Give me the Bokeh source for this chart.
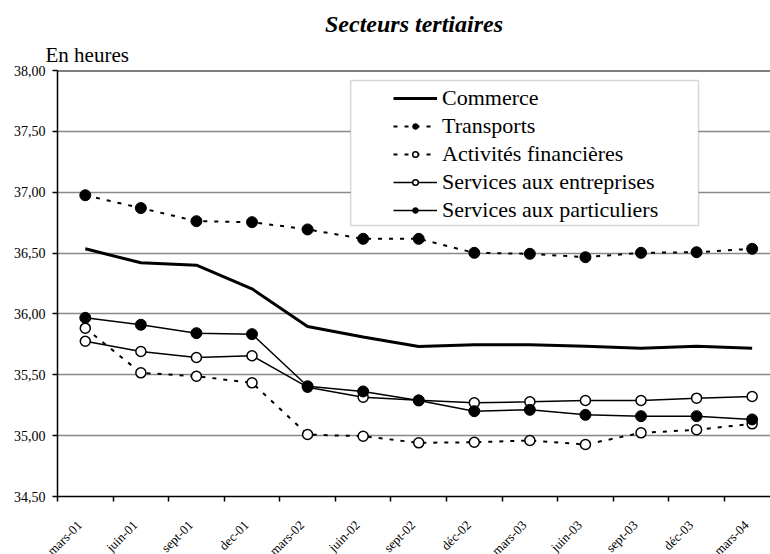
import math
from bokeh.plotting import figure
from bokeh.layouts import column
from bokeh.models import (Range1d, FixedTicker, Legend, LegendItem, BoxAnnotation,
                          Span, Title)
from bokeh.core.properties import value
from bokeh.embed import file_html
from bokeh.resources import INLINE

months = ["mars-01", "juin-01", "sept-01", "dec-01", "mars-02", "juin-02", "sept-02",
          "déc-02", "mars-03", "juin-03", "sept-03", "déc-03", "mars-04"]
commerce = [36.535, 36.42, 36.40, 36.206, 35.897, 35.81, 35.732, 35.746, 35.746,
            35.735, 35.718, 35.735, 35.718]
transports = [36.975, 36.87, 36.762, 36.754, 36.694, 36.617, 36.617, 36.502, 36.494,
              36.466, 36.502, 36.507, 36.535]
financieres = [35.883, 35.516, 35.488, 35.434, 35.009, 34.995, 34.941, 34.946, 34.960,
               34.927, 35.023, 35.048, 35.097]
entreprises = [35.776, 35.691, 35.642, 35.656, 35.398, 35.316, 35.29, 35.270, 35.278,
               35.289, 35.289, 35.308, 35.322]
particuliers = [35.968, 35.911, 35.842, 35.834, 35.406, 35.363, 35.289, 35.201, 35.212,
                35.171, 35.160, 35.160, 35.133]
y_ticks = [34.5, 35.0, 35.5, 36.0, 36.5, 37.0, 37.5, 38.0]
title_text = "Secteurs tertiaires"
unit_text = "En heures"

FONT = "Liberation Serif"
x = [i + 0.5 for i in range(len(months))]
y_min, y_max = y_ticks[0], y_ticks[-1]

W = 770
LEFT = 57
X_END = 12.83
PX_PER_UNIT = (W - LEFT) / X_END

p = figure(width=W, height=510, x_range=Range1d(0, X_END), y_range=Range1d(y_min, y_max),
           output_backend="svg", toolbar_location=None, title=None,
           min_border_left=LEFT, min_border_right=0, min_border_top=70, min_border_bottom=14)
p.frame_align = False
p.outline_line_color = None
p.background_fill_color = "white"

# x axis: boundary ticks only (category labels drawn in the strip below)
p.xaxis.ticker = FixedTicker(ticks=x, minor_ticks=list(range(len(months))))
p.xaxis.major_label_overrides = {xx: "" for xx in x}
p.xaxis.major_label_standoff = 0
p.xaxis.major_tick_in = 0
p.xaxis.major_tick_out = 0
p.xaxis.minor_tick_in = 0
p.xaxis.minor_tick_out = 5
p.xaxis.minor_tick_line_color = "black"
p.xaxis.minor_tick_line_width = 1.5
p.xaxis.axis_line_color = "black"
p.xaxis.axis_line_width = 1.5

p.yaxis.ticker = FixedTicker(ticks=y_ticks, minor_ticks=[])
p.yaxis.major_label_overrides = {v: f"{v:.2f}".replace(".", ",") for v in y_ticks}
p.yaxis.major_tick_in = 0
p.yaxis.major_tick_out = 5
p.yaxis.major_tick_line_width = 1.5
p.yaxis.minor_tick_out = 0
p.yaxis.minor_tick_in = 0
p.yaxis.major_label_standoff = 7
p.yaxis.major_label_text_font = FONT
p.yaxis.major_label_text_font_size = "14px"
p.yaxis.major_label_text_color = "black"
p.yaxis.axis_line_color = "black"
p.yaxis.axis_line_width = 1.5

p.xgrid.visible = False
p.ygrid.grid_line_color = "#888888"
p.ygrid.grid_line_width = 1.5

p.add_layout(Span(location=y_max, dimension="width", line_color="black", line_width=2))

# series
r_com = p.line(x, commerce, line_color="black", line_width=3)

l_fin = p.line(x, financieres, line_color="black", line_width=2, line_dash="4 7")
s_fin = p.scatter(x, financieres, marker="circle", size=10, fill_color="white",
                  line_color="black", line_width=1.5)

l_tra = p.line(x, transports, line_color="black", line_width=2, line_dash="4 7")
s_tra = p.scatter(x, transports, marker="circle", size=11, fill_color="black",
                  line_color="black")

l_ent = p.line(x, entreprises, line_color="black", line_width=1.5)
s_ent = p.scatter(x, entreprises, marker="circle", size=10, fill_color="white",
                  line_color="black", line_width=1.5)

l_par = p.line(x, particuliers, line_color="black", line_width=1.5)
s_par = p.scatter(x, particuliers, marker="circle", size=11, fill_color="black",
                  line_color="black")

# legend frame
p.add_layout(BoxAnnotation(left=5.275, right=11.535, top=37.918, bottom=36.726,
                           fill_color="white", fill_alpha=1.0,
                           line_color="#7a7a7a", line_width=1.5))

legend = Legend(items=[
    LegendItem(label="Commerce", renderers=[r_com]),
    LegendItem(label="Transports", renderers=[l_tra, s_tra]),
    LegendItem(label="Activités financières", renderers=[l_fin, s_fin]),
    LegendItem(label="Services aux entreprises", renderers=[l_ent, s_ent]),
    LegendItem(label="Services aux particuliers", renderers=[l_par, s_par]),
], location=(336, 273), border_line_color=None, background_fill_alpha=0.0,
    padding=0, margin=0, spacing=2, glyph_width=44, glyph_height=14,
    label_standoff=5, label_text_font=FONT, label_text_font_size="22px",
    label_text_color="black")
p.add_layout(legend)

# titles
p.add_layout(Title(text=unit_text, align="left", offset=-12, text_font=FONT,
                   text_font_size="21px", text_font_style="normal",
                   text_color="black", standoff=8), "above")
p.add_layout(Title(text=title_text, align="center", text_font=FONT,
                   text_font_size="24px", text_font_style="bold italic",
                   text_color="black", standoff=0), "above")

# strip holding the rotated category labels (same horizontal scale as the chart)
p2 = figure(width=W, height=44, x_range=Range1d(-LEFT / PX_PER_UNIT, X_END),
            y_range=Range1d(0, 1), output_backend="svg", toolbar_location=None,
            x_axis_type=None, y_axis_type=None,
            min_border_left=0, min_border_right=0, min_border_top=7, min_border_bottom=0)
p2.frame_align = False
p2.outline_line_color = None
p2.xgrid.visible = False
p2.ygrid.visible = False
p2.text(x, [1] * len(months), text=months, angle=math.pi / 4, x_offset=-11,
        text_align="right", text_baseline="top", text_font=value(FONT),
        text_font_size="13px", text_color="black")

layout = column(p, p2, spacing=0)
open("out.html", "w").write(file_html(layout, INLINE))
